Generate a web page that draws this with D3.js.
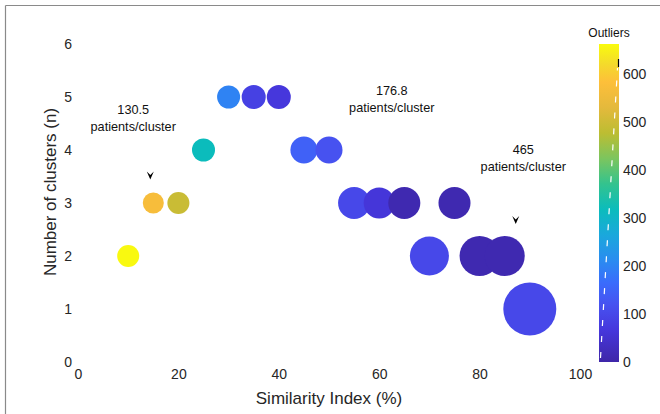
<!DOCTYPE html>
<html>
<head>
<meta charset="utf-8">
<script src="https://cdn.jsdelivr.net/npm/d3@7"></script>
<style>
body { margin: 0; background: #fff; }
svg { display: block; font-family: "Liberation Sans", Arial, sans-serif; }
</style>
</head>
<body>
<div id="chart"></div>
<script>
// bubble data: similarity index, number of clusters, outliers (colour), marker size (area)
var similarity = [10, 15, 20, 25, 30, 35, 40, 45, 50, 55, 60, 65, 75, 70, 80, 85, 90];
var clusters   = [2, 3, 3, 4, 5, 5, 5, 4, 4, 3, 3, 3, 3, 2, 2, 2, 1];
var outliers   = [660, 570, 495, 318, 199, 86, 66, 146, 119, 100, 62, 10, 10, 100, 10, 10, 100];
var markerSize = [121, 110, 121, 132, 132, 144, 144, 182, 182, 256, 240, 256, 256, 380, 400, 400, 700];

var xTicks = [0, 20, 40, 60, 80, 100];
var yTicks = [0, 1, 2, 3, 4, 5, 6];
var cTicks = [0, 100, 200, 300, 400, 500, 600];
var cMax = 663;

var notes = [
  {x: 11, y: 4.68, lines: ["130.5", "patients/cluster"], arrow: [14.4, 3.5]},
  {x: 62.5, y: 5.04, lines: ["176.8", "patients/cluster"], arrow: null},
  {x: 88.7, y: 3.92, lines: ["465", "patients/cluster"], arrow: [87.2, 2.66]}
];

// approximate parula
var parulaStops = ["#3e26a8", "#4637dc", "#4752f0", "#3a6cfc", "#2a8cf0", "#1aa8dc",
  "#0bbcbc", "#33c38e", "#7cc55e", "#bcbd32", "#e4b93c", "#fdbf3a", "#f4dc2a", "#f9fb0e"];
var stopPos = [0, 0.10, 0.18, 0.25, 0.32, 0.40, 0.48, 0.56, 0.64, 0.72, 0.80, 0.88, 0.94, 1];

const width = 660, height = 414;
var svg = d3.select("#chart").append("svg").attr("width", width).attr("height", height);

// figure frame (cropped)
svg.append("line").attr("x1", 5.5).attr("y1", 5.5).attr("x2", width).attr("y2", 5.5)
  .attr("stroke", "#8a8a8a").attr("stroke-width", 1.2);
svg.append("line").attr("x1", 5.5).attr("y1", 5.5).attr("x2", 5.5).attr("y2", height)
  .attr("stroke", "#8a8a8a").attr("stroke-width", 1.2);

var xScale = d3.scaleLinear().domain([0, 100]).range([78, 580]);
var yScale = d3.scaleLinear().domain([0, 6]).range([362, 44]);
var rScale = d3.scaleSqrt().domain([0, 700]).range([0, 26.5]);
var colorScale = d3.scaleLinear()
  .domain(stopPos.map(function(p){ return p * cMax; }))
  .range(parulaStops)
  .clamp(true);

var txt = "#262626";

// x tick labels
var xAxis = d3.axisBottom(xScale).tickValues(xTicks).tickFormat(d3.format("d")).tickSize(0).tickPadding(0);
var gx = svg.append("g").attr("transform", "translate(0,369)").call(xAxis);
gx.select(".domain").remove();
gx.selectAll("text").attr("font-size", 14).attr("fill", txt).attr("dy", "0.71em")
  .attr("font-family", "Liberation Sans, Arial, sans-serif");

// y tick labels
var yAxis = d3.axisLeft(yScale).tickValues(yTicks).tickFormat(d3.format("d")).tickSize(0).tickPadding(0);
var gy = svg.append("g").attr("transform", "translate(72,0)").call(yAxis);
gy.select(".domain").remove();
gy.selectAll("text").attr("font-size", 14).attr("fill", txt)
  .attr("font-family", "Liberation Sans, Arial, sans-serif");

svg.append("text").attr("x", 329).attr("y", 404).attr("text-anchor", "middle")
  .attr("font-size", 17).attr("fill", txt).text("Similarity Index (%)");
svg.append("text").attr("transform", "translate(56,192) rotate(-90)").attr("text-anchor", "middle")
  .attr("font-size", 17).attr("fill", txt).text("Number of clusters (n)");

// bubbles
var points = similarity.map(function(s, i){
  return {x: s, y: clusters[i], c: outliers[i], s: markerSize[i]};
});
svg.append("g").selectAll("circle").data(points).enter().append("circle")
  .attr("cx", function(d){ return xScale(d.x); })
  .attr("cy", function(d){ return yScale(d.y); })
  .attr("r", function(d){ return rScale(d.s); })
  .attr("fill", function(d){ return colorScale(d.c); });

// annotations
var ng = svg.append("g");
notes.forEach(function(n){
  var t = ng.append("text").attr("x", xScale(n.x)).attr("y", yScale(n.y))
    .attr("text-anchor", "middle").attr("font-size", 12.7).attr("fill", "#111");
  n.lines.forEach(function(l, i){
    t.append("tspan").attr("x", xScale(n.x)).attr("dy", i === 0 ? 0 : 17).text(l);
  });
  if (n.arrow) {
    var ax = xScale(n.arrow[0]), ay = yScale(n.arrow[1]);
    ng.append("path")
      .attr("d", "M" + (ax - 3.5) + "," + (ay - 5) + " L" + ax + "," + (ay + 3) +
        " L" + (ax + 3.5) + "," + (ay - 5) + " L" + ax + "," + (ay - 1.5) + " Z")
      .attr("fill", "#000");
  }
});

// colorbar
var cbX = 599, cbW = 20;
var cScale = d3.scaleLinear().domain([0, cMax]).range([362, 44]);
var defs = svg.append("defs");
var grad = defs.append("linearGradient").attr("id", "cbar")
  .attr("x1", 0).attr("y1", 1).attr("x2", 0).attr("y2", 0);
grad.selectAll("stop").data(stopPos).enter().append("stop")
  .attr("offset", function(d){ return d; })
  .attr("stop-color", function(d, i){ return parulaStops[i]; });
svg.append("rect").attr("x", cbX).attr("y", cScale(cMax)).attr("width", cbW)
  .attr("height", cScale(0) - cScale(cMax)).attr("fill", "url(#cbar)");

svg.append("line").attr("x1", cbX + 1.5).attr("y1", 358).attr("x2", cbX + 18.5).attr("y2", 68)
  .attr("stroke", "#fff").attr("stroke-width", 1.2).attr("stroke-dasharray", "6,10");
svg.append("line").attr("x1", cbX + 19.5).attr("y1", 59).attr("x2", cbX + 19.5).attr("y2", 67)
  .attr("stroke", "#000").attr("stroke-width", 1.2);

var cAxis = d3.axisRight(cScale).tickValues(cTicks).tickSize(0).tickPadding(0);
var gc = svg.append("g").attr("transform", "translate(" + (cbX + cbW + 4) + ",0)").call(cAxis);
gc.select(".domain").remove();
gc.selectAll("text").attr("font-size", 14).attr("fill", txt)
  .attr("font-family", "Liberation Sans, Arial, sans-serif");

svg.append("text").attr("x", cbX + cbW / 2).attr("y", 37).attr("text-anchor", "middle")
  .attr("font-size", 12).attr("fill", "#111").text("Outliers");
</script>
</body>
</html>
